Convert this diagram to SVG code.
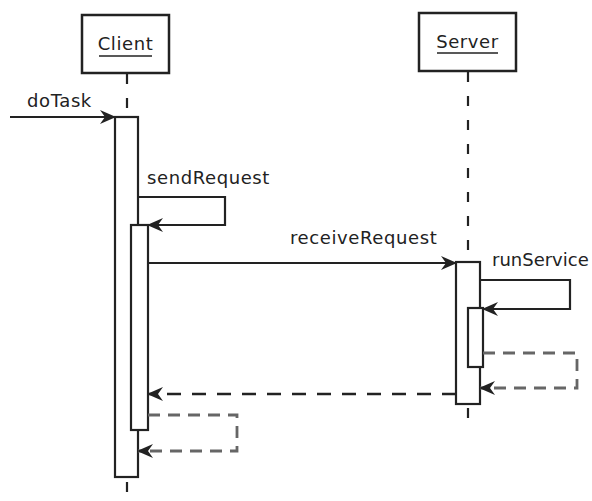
<svg xmlns="http://www.w3.org/2000/svg" width="592" height="501" viewBox="0 0 592 501">
<style>
  text { font-family: "DejaVu Sans", "Liberation Sans", sans-serif; font-size: 18px; fill: #222; letter-spacing: 0.6px; }
  .box { fill: #fff; stroke: #222; stroke-width: 2.5; }
  .act { fill: #fff; stroke: #222; stroke-width: 2.2; }
  .life { stroke: #222; stroke-width: 2.2; stroke-dasharray: 10 14; fill: none; }
  .msg { stroke: #222; stroke-width: 2.2; fill: none; }
  .ret { stroke: #222; stroke-width: 2.5; fill: none; stroke-dasharray: 14 11; }
  .ret2 { stroke: #666; stroke-width: 2.8; fill: none; stroke-dasharray: 12 8; }
  .ul { stroke: #222; stroke-width: 1.5; }
</style>
<defs>
  <marker id="arr" viewBox="0 0 16 14" refX="15" refY="7" markerWidth="16" markerHeight="14" markerUnits="userSpaceOnUse" orient="auto">
    <path d="M0,0 L16,7 L0,14 L5,7 z" fill="#222"/>
  </marker>
</defs>
<rect width="592" height="501" fill="#fff"/>
<g id="lifelines">
  <line class="life" x1="127" y1="74" x2="127" y2="501"/>
  <line class="life" x1="468" y1="72" x2="468" y2="430"/>
</g>
<g id="client">
  <rect class="box" x="82" y="15" width="87" height="58"/>
  <text x="125.5" y="50" text-anchor="middle">Client</text>
  <line class="ul" x1="99" y1="56" x2="152" y2="56"/>
</g>
<g id="server">
  <rect class="box" x="419" y="13" width="97" height="58"/>
  <text x="467.5" y="48" text-anchor="middle">Server</text>
  <line class="ul" x1="437" y1="53" x2="498" y2="53"/>
</g>
<g id="client-activation">
  <rect class="act" x="115" y="117" width="23" height="360"/>
</g>
<g id="client-activation-inner">
  <rect class="act" x="131" y="225" width="17" height="205"/>
</g>
<g id="server-activation">
  <rect class="act" x="456" y="262" width="24" height="142"/>
</g>
<g id="server-activation-inner">
  <rect class="act" x="468" y="308" width="15" height="59"/>
</g>
<g id="connectors">
  <path class="msg" d="M10,117 H115" marker-end="url(#arr)"/>
  <path class="msg" d="M138,197 H225 V225 H148" marker-end="url(#arr)"/>
  <path class="msg" d="M148,263 H456" marker-end="url(#arr)"/>
  <path class="msg" d="M480,280 H570 V309 H483" marker-end="url(#arr)"/>
  <path class="ret2" d="M483,353 H577 V388 H480" marker-end="url(#arr)"/>
  <path class="ret" d="M456,394 H148" marker-end="url(#arr)"/>
  <path class="ret2" d="M148,415 H237 V451 H138" marker-end="url(#arr)"/>
</g>
<g id="labels">
  <text x="27" y="107">doTask</text>
  <text x="147" y="184">sendRequest</text>
  <text x="290" y="244">receiveRequest</text>
  <text x="492" y="266" style="letter-spacing:0">runService</text>
</g>
</svg>
